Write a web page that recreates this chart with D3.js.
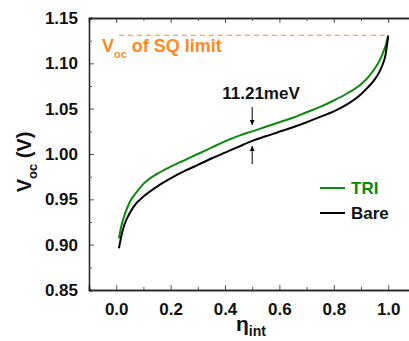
<!DOCTYPE html>
<html>
<head>
<meta charset="utf-8">
<script src="https://cdn.jsdelivr.net/npm/d3@7"></script>
<style>
  body { margin: 0; background: #fff; }
  svg { display: block; font-family: "Liberation Sans", Arial, sans-serif; font-weight: bold; }
</style>
</head>
<body>
<div id="chart"></div>
<script>
// internal efficiency (x) and Voc
const eta = [0.01, 0.02, 0.03, 0.05, 0.075, 0.10, 0.15, 0.20, 0.25, 0.30, 0.35, 0.40, 0.45, 0.50,
             0.55, 0.60, 0.65, 0.70, 0.75, 0.80, 0.85, 0.90, 0.93, 0.95, 0.97, 0.98, 0.99, 1.00];
const vocBare = [0.896, 0.911, 0.922, 0.935, 0.946, 0.953, 0.964, 0.973, 0.981, 0.988, 0.995, 1.0015, 1.008, 1.0145,
                 1.0195, 1.0245, 1.0295, 1.035, 1.041, 1.047, 1.055, 1.066, 1.075, 1.082, 1.092, 1.099, 1.109, 1.130];
const vocTri = [0.907, 0.922, 0.932, 0.947, 0.958, 0.967, 0.978, 0.986, 0.993, 1.000, 1.007, 1.014, 1.020, 1.025,
                1.030, 1.035, 1.040, 1.046, 1.052, 1.059, 1.067, 1.077, 1.086, 1.094, 1.104, 1.111, 1.119, 1.131];
const vocSQ = 1.131;
const xTicks = [0.0, 0.2, 0.4, 0.6, 0.8, 1.0];
const yTicks = [0.85, 0.90, 0.95, 1.00, 1.05, 1.10, 1.15];
const series = [
    {name: 'TRI', values: vocTri, color: '#0a8a0a'},
    {name: 'Bare', values: vocBare, color: '#000000'}
];

const W = 409, H = 341;
const box = {left: 89, top: 18, bottom: 290, right: 415.4};

const svg = d3.select('#chart').append('svg')
    .attr('width', W)
    .attr('height', H);

const x = d3.scaleLinear().domain([-0.1, 1.1]).range([box.left, box.right]);
const y = d3.scaleLinear().domain([0.85, 1.15]).range([box.bottom, box.top]);

// axes: ticks point inward, minor ticks in between
const minorX = d3.range(0.1, 1.05, 0.2);
const minorY = d3.range(0.875, 1.15, 0.05);

const bottomAxis = svg.append('g').attr('transform', `translate(0,${box.bottom})`);
bottomAxis.call(d3.axisBottom(x).tickValues(xTicks).tickSize(-5).tickPadding(13).tickFormat(d3.format('.1f')));
bottomAxis.append('g').call(d3.axisBottom(x).tickValues(minorX).tickSize(-3).tickFormat(''));

const topAxis = svg.append('g').attr('transform', `translate(0,${box.top})`);
topAxis.call(d3.axisTop(x).tickValues(xTicks).tickSize(-5).tickFormat(''));
topAxis.append('g').call(d3.axisTop(x).tickValues(minorX).tickSize(-3).tickFormat(''));

const leftAxis = svg.append('g').attr('transform', `translate(${box.left},0)`);
leftAxis.call(d3.axisLeft(y).tickValues(yTicks).tickSize(-5).tickPadding(11).tickFormat(d3.format('.2f')));
leftAxis.append('g').call(d3.axisLeft(y).tickValues(minorY).tickSize(-3).tickFormat(''));

svg.selectAll('.domain').attr('stroke', '#222').attr('stroke-width', 1.3);
svg.selectAll('.tick line').attr('stroke', '#555').attr('stroke-width', 1);
svg.selectAll('.tick text')
    .attr('font-family', '"Liberation Sans", Arial, sans-serif')
    .attr('font-weight', 'bold')
    .attr('font-size', 17)
    .attr('fill', '#111');

// SQ limit dashed line
svg.append('line')
    .attr('x1', x(0.01)).attr('x2', x(1.0))
    .attr('y1', y(vocSQ)).attr('y2', y(vocSQ))
    .attr('stroke', '#ff8a1c')
    .attr('stroke-width', 1.2)
    .attr('stroke-dasharray', '5,4');

const sq = svg.append('text')
    .attr('x', 102).attr('y', 52)
    .attr('fill', '#ff8a1c')
    .attr('font-size', 18);
sq.append('tspan').text('V');
sq.append('tspan').attr('font-size', 11).attr('dy', 6).text('oc');
sq.append('tspan').attr('dy', -6).text(' of SQ limit');

// curves
const line = d3.line()
    .x((d, i) => x(eta[i]))
    .y(d => y(d))
    .curve(d3.curveMonotoneX);

svg.selectAll('.curve')
    .data(series)
    .join('path')
    .attr('class', 'curve')
    .attr('fill', 'none')
    .attr('stroke', d => d.color)
    .attr('stroke-width', 2)
    .attr('d', d => line(d.values));

// 11.21 meV annotation at eta = 0.5
const defs = svg.append('defs');
defs.append('marker')
    .attr('id', 'head')
    .attr('viewBox', '0 0 10 10')
    .attr('refX', 10).attr('refY', 5)
    .attr('markerWidth', 5).attr('markerHeight', 5)
    .attr('orient', 'auto')
    .append('path')
    .attr('d', 'M0,0L10,5L0,10Z')
    .attr('fill', '#000');

const xa = x(0.5);
svg.append('line')
    .attr('x1', xa).attr('x2', xa)
    .attr('y1', 107).attr('y2', 125)
    .attr('stroke', '#000').attr('stroke-width', 1)
    .attr('marker-end', 'url(#head)');
svg.append('line')
    .attr('x1', xa).attr('x2', xa)
    .attr('y1', 164).attr('y2', 146)
    .attr('stroke', '#000').attr('stroke-width', 1)
    .attr('marker-end', 'url(#head)');
svg.append('text')
    .attr('x', 261).attr('y', 99)
    .attr('text-anchor', 'middle')
    .attr('font-size', 17)
    .attr('fill', '#111')
    .text('11.21meV');

// legend
const legend = svg.append('g').attr('transform', 'translate(320,188)');
legend.selectAll('g')
    .data(series)
    .join('g')
    .attr('transform', (d, i) => `translate(0,${i * 25})`)
    .each(function(d) {
        const g = d3.select(this);
        g.append('line').attr('x1', 0).attr('x2', 25).attr('y1', 0).attr('y2', 0)
            .attr('stroke', d.color).attr('stroke-width', 2);
        g.append('text').attr('x', 31).attr('y', 6)
            .attr('font-size', 17)
            .attr('fill', d.name === 'TRI' ? d.color : '#111')
            .text(d.name);
    });

// axis titles
const xt = svg.append('text')
    .attr('x', 251).attr('y', 331)
    .attr('text-anchor', 'middle')
    .attr('font-size', 21)
    .attr('fill', '#111');
xt.append('tspan').text('η');
xt.append('tspan').attr('font-size', 14).attr('dy', 5).text('int');

const yt = svg.append('text')
    .attr('transform', 'translate(31,162) rotate(-90)')
    .attr('text-anchor', 'middle')
    .attr('font-size', 20)
    .attr('fill', '#111');
yt.append('tspan').text('V');
yt.append('tspan').attr('font-size', 13).attr('dy', 6).text('oc');
yt.append('tspan').attr('dy', -6).text(' (V)');
</script>
</body>
</html>
